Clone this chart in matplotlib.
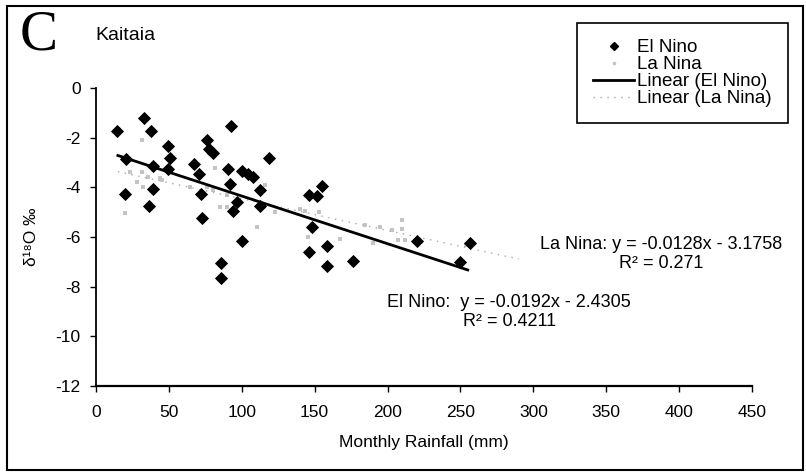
import numpy as np
import matplotlib.pyplot as plt
from matplotlib.patches import Rectangle
from matplotlib.lines import Line2D

plt.rcParams['font.family'] = ['Liberation Sans', 'DejaVu Sans']
plt.rcParams['axes.unicode_minus'] = False

# El Nino samples (monthly rainfall mm, d18O permil)
elnino_rain = [14.2, 20.6, 19.9, 33.1, 37.5, 39.3, 39.3, 36.1, 49.2, 51.0,
               49.2, 67.4, 70.9, 71.8, 72.9, 75.9, 77.3, 80.5, 85.5, 85.5,
               90.3, 91.6, 92.6, 93.7, 96.7, 99.9, 104.5, 107.9, 100.3, 112.2,
               112.2, 118.7, 146.4, 151.4, 155.0, 148.5, 146.0, 158.2, 158.2, 176.5,
               219.9, 250.0, 256.5]
elnino_d18o = [-1.75, -2.85, -4.25, -1.2, -1.75, -3.15, -4.05, -4.75, -2.35, -2.8,
               -3.25, -3.05, -3.45, -4.25, -5.25, -2.1, -2.45, -2.6, -7.05, -7.65,
               -3.25, -3.85, -1.55, -4.95, -4.6, -3.35, -3.45, -3.6, -6.15, -4.1,
               -4.75, -2.8, -4.3, -4.35, -3.95, -5.6, -6.6, -6.35, -7.15, -6.95,
               -6.15, -7.0, -6.25]

# La Nina samples (faint in the scan)
lanina_rain = [23.3, 31.3, 35.9, 43.9, 27.9, 32.4, 19.9, 45.0, 31.3, 64.5,
               75.9, 80.5, 89.6, 81.6, 85.0, 89.6, 110.2, 115.9, 122.8, 139.9,
               143.3, 153.2, 145.6, 167.4, 184.5, 190.2, 194.8, 202.8, 209.6, 209.6,
               207.3, 211.9, 254.0, 148.0]
lanina_d18o = [-3.37, -3.37, -3.57, -3.64, -3.77, -4.0, -5.05, -3.7, -2.1, -3.97,
               -3.97, -4.1, -4.31, -3.24, -4.78, -4.78, -5.58, -3.91, -4.98, -4.87,
               -4.94, -5.01, -5.99, -6.09, -5.52, -6.26, -5.59, -5.72, -5.32, -5.69,
               -6.12, -6.12, -6.32, -5.75]

# trend lines as printed on the chart
elnino_fit = (-0.0192, -2.4305, 0.4211)
lanina_fit = (-0.0128, -3.1758, 0.271)
elnino_range = [15, 255]
lanina_range = [15, 290]

x_ticks = list(range(0, 451, 50))
y_ticks = list(range(-12, 1, 2))

fig = plt.figure(figsize=(8.06, 4.72), dpi=100)
ax = fig.add_axes([96/806, 1-386/472, 656/806, 298/472])

ax.scatter(lanina_rain, lanina_d18o, marker='s', s=5, color='#c4c4c4',
           linewidths=0, zorder=2)
ax.scatter(elnino_rain, elnino_d18o, marker='D', s=45, color='black',
           linewidths=0, zorder=3)

xe = np.array(elnino_range)
ax.plot(xe, elnino_fit[0]*xe + elnino_fit[1], color='black', lw=2.0, zorder=4)
xl = np.array(lanina_range)
ax.plot(xl, lanina_fit[0]*xl + lanina_fit[1], color='#a8a8a8', lw=1.0,
        ls=(0, (1, 4)), zorder=2)

ax.set_xlim(0, 450)
ax.set_ylim(-12, 0)
ax.set_xticks(x_ticks)
ax.set_yticks(y_ticks)
ax.tick_params(direction='out', length=4, width=1, labelsize=12.5, color='black')
ax.tick_params(axis='x', pad=10)
ax.tick_params(axis='y', pad=7)
for s in ['top', 'right']:
    ax.spines[s].set_visible(False)
ax.spines['left'].set_linewidth(1.3)
ax.spines['bottom'].set_linewidth(1.6)

ax.set_xlabel('Monthly Rainfall (mm)', fontsize=12.5)
ax.xaxis.set_label_coords(0.5, -0.165)
ax.set_ylabel('δ¹⁸O ‰', fontsize=12.5)
ax.yaxis.set_label_coords(-0.087, 0.5)

ax.text(0.63, 0.248,
        f'El Nino:  y = {elnino_fit[0]}x - {abs(elnino_fit[1])}\nR² = {elnino_fit[2]}',
        transform=ax.transAxes, ha='center', va='center', fontsize=13,
        linespacing=1.2)
ax.text(0.862, 0.443,
        f'La Nina: y = {lanina_fit[0]}x - {abs(lanina_fit[1])}\nR² = {lanina_fit[2]}',
        transform=ax.transAxes, ha='center', va='center', fontsize=13,
        linespacing=1.2)

fig.text(39/806, 1-36/472, 'C', fontsize=41, family='Liberation Serif',
         ha='center', va='center')
fig.text(95/806, 1-35/472, 'Kaitaia', fontsize=14, ha='left', va='center')

handles = [
    Line2D([], [], marker='D', ls='none', color='black', markersize=4),
    Line2D([], [], marker='s', ls='none', color='#c4c4c4', markersize=2),
    Line2D([], [], color='black', lw=2.0),
    Line2D([], [], color='#a8a8a8', lw=1.0, ls=(0, (1, 4))),
]
labels = ['El Nino', 'La Nina', 'Linear (El Nino)', 'Linear (La Nina)']
leg = fig.legend(handles, labels, loc='upper right',
                 bbox_to_anchor=(788/806, 1-23/472), fontsize=13.5,
                 fancybox=False, framealpha=1, edgecolor='black',
                 labelspacing=0.0, handlelength=2.15, handletextpad=0.2,
                 borderpad=0.85, borderaxespad=0)
leg.get_frame().set_linewidth(1.2)

fig.patches.append(Rectangle((7/806, 1-470/472), 796/806, 464/472,
                             transform=fig.transFigure, fill=False,
                             edgecolor='black', lw=1.5))

fig.savefig('out.png', dpi=100)
